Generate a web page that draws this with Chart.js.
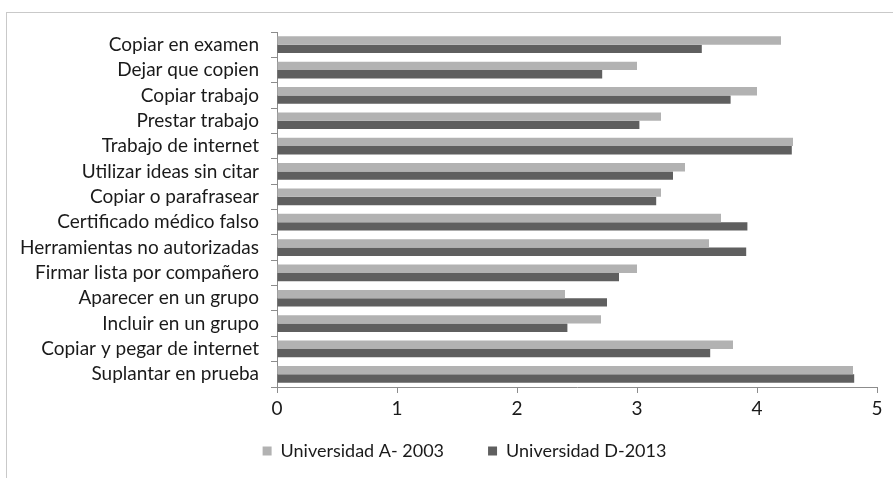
<!DOCTYPE html>
<html>
<head>
<meta charset="utf-8">
<script src="https://cdn.jsdelivr.net/npm/chart.js@4/dist/chart.umd.min.js"></script>
<style>
  html, body { margin: 0; padding: 0; background: #fff; }
  #wrap { position: relative; width: 893px; height: 478px; overflow: hidden; }
  #frame { position: absolute; left: 6px; top: 12px; width: 1000px; height: 1000px;
           border-left: 1px solid #c9c9c9; border-top: 1px solid #c9c9c9; }
  canvas { position: absolute; left: 0; top: 0; }
</style>
</head>
<body>
<div id="wrap">
  <div id="frame"></div>
  <canvas id="c" width="893" height="478"></canvas>
</div>
<script>
const categories = [
  'Copiar en examen',
  'Dejar que copien',
  'Copiar trabajo',
  'Prestar trabajo',
  'Trabajo de internet',
  'Utilizar ideas sin citar',
  'Copiar o parafrasear',
  'Certificado médico falso',
  'Herramientas no autorizadas',
  'Firmar lista por compañero',
  'Aparecer en un grupo',
  'Incluir en un grupo',
  'Copiar y pegar de internet',
  'Suplantar en prueba'
];
const seriesNames = ['Universidad A- 2003', 'Universidad D-2013'];
const uniA2003 = [4.2, 3.0, 4.0, 3.2, 4.3, 3.4, 3.2, 3.7, 3.6, 3.0, 2.4, 2.7, 3.8, 4.8];
const uniD2013 = [3.54, 2.71, 3.78, 3.02, 4.29, 3.30, 3.16, 3.92, 3.91, 2.85, 2.75, 2.42, 3.61, 4.81];
const xTicks = [0, 1, 2, 3, 4, 5];

const FONT = "Lato, 'Open Sans', sans-serif";
const LEGEND_GAP = 44;
const LEGEND_FONT = 18;

// Places the legend row under the axis, centred a little right of the canvas middle.
const legendPlacement = {
  id: 'legendPlacement',
  afterLayout(chart) {
    const lg = chart.legend;
    if (!lg) return;
    lg.top = 451 - LEGEND_GAP - LEGEND_FONT / 2;
    lg.bottom = lg.top + 2 * LEGEND_GAP + LEGEND_FONT;
    lg.height = lg.bottom - lg.top;
    lg.left += 26;
    lg.right += 26;
  }
};

new Chart(document.getElementById('c'), {
  type: 'bar',
  data: {
    labels: categories,
    datasets: [
      { label: seriesNames[0], data: uniA2003, backgroundColor: '#b2b2b2',
        categoryPercentage: 0.66, barPercentage: 1.0 },
      { label: seriesNames[1], data: uniD2013, backgroundColor: '#5f5f5f',
        categoryPercentage: 0.66, barPercentage: 1.0 }
    ]
  },
  options: {
    indexAxis: 'y',
    responsive: false,
    animation: false,
    layout: { padding: { top: 32, right: 16, bottom: 8, left: 0 } },
    plugins: {
      tooltip: { enabled: false },
      legend: {
        position: 'bottom',
        maxHeight: 30,
        labels: {
          font: { family: FONT, size: LEGEND_FONT },
          color: '#1a1a1a',
          boxWidth: 9, boxHeight: 9,
          padding: LEGEND_GAP
        }
      }
    },
    scales: {
      x: {
        min: 0, max: 5,
        afterBuildTicks: (s) => { s.ticks = xTicks.map(v => ({ value: v })); },
        afterFit: (s) => { s.height = 53; },
        grid: { drawOnChartArea: false, drawTicks: true, tickLength: 6, color: '#8c8c8c' },
        border: { display: true, color: '#8c8c8c', width: 1 },
        ticks: { font: { family: FONT, size: 19 }, color: '#1a1a1a', padding: 4 }
      },
      y: {
        afterFit: (s) => { s.width = 277; },
        grid: { drawOnChartArea: false, drawTicks: true, tickLength: 6, color: '#8c8c8c', offset: true },
        border: { display: true, color: '#8c8c8c', width: 1 },
        ticks: { font: { family: FONT, size: 19 }, color: '#1a1a1a', padding: 12, autoSkip: false }
      }
    }
  },
  plugins: [legendPlacement]
});
</script>
</body>
</html>
